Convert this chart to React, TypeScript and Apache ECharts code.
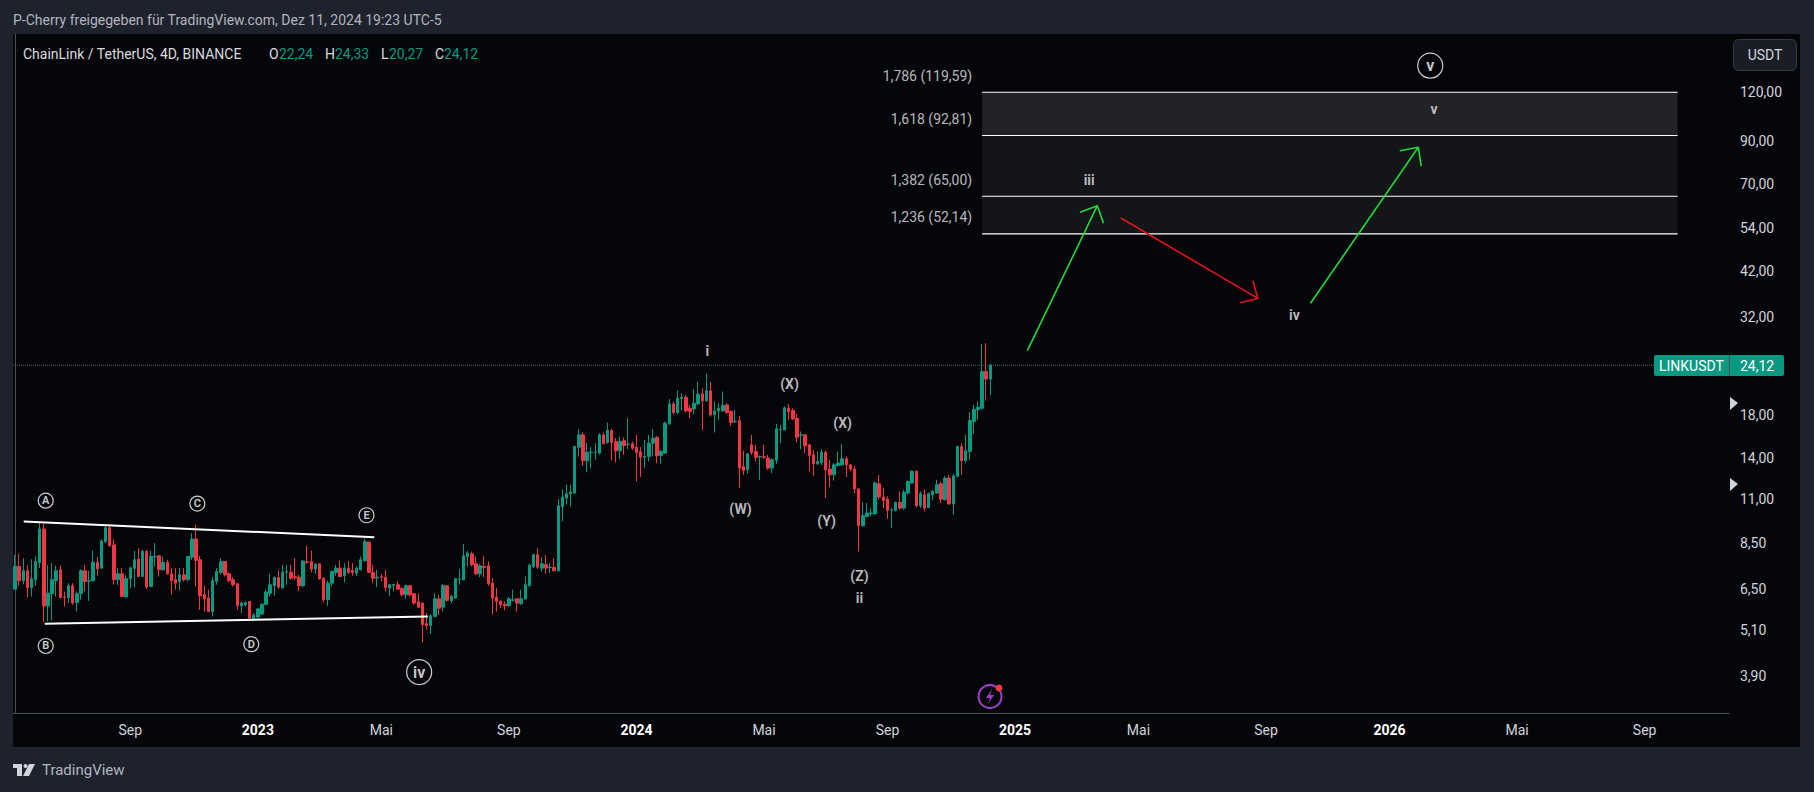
import React, { useEffect, useRef } from "react";
import * as echarts from "echarts";

// Candles as [open, high, low, close]
const candles2022 = [
  [6.49,7.93,6.47,7.41],[7.41,7.98,6.62,6.82],[6.82,7.78,6.68,7.23],[7.23,7.48,6.18,6.55],[6.55,7.73,6.22,6.90],
  [6.86,7.89,6.62,7.63],[7.59,9.65,7.34,9.24],[9.24,9.55,5.35,5.88],[5.88,7.48,5.37,6.34],[6.32,7.56,5.40,6.86],
  [6.82,7.44,6.22,7.23],[7.27,7.45,6.15,6.18],[6.20,6.40,5.86,6.18],[6.18,6.72,5.98,6.62],[6.62,6.72,5.92,5.98],
  [6.00,6.40,5.69,6.32],[6.33,7.30,6.10,7.23],[7.23,7.48,6.41,6.79],[6.80,7.23,6.06,6.82],[6.82,8.14,6.79,7.60],
  [7.60,7.83,7.02,7.31],[7.34,8.69,7.31,8.61],[8.58,9.51,8.50,9.30],[9.30,9.51,8.33,8.37],[8.41,8.69,6.66,6.86],
  [6.86,7.34,6.66,7.10],[7.10,7.34,6.20,6.22],[6.20,7.06,6.19,6.90],[6.89,7.41,6.53,7.35],[7.33,8.12,6.57,7.71],
  [7.74,8.25,6.96,6.99],[6.99,8.17,6.96,8.09],[8.09,8.17,6.49,6.57],[6.59,8.12,6.57,7.86],[7.84,8.50,7.41,7.86],
  [7.89,7.93,6.99,7.27],[7.27,7.86,7.24,7.59],[7.59,7.71,7.06,7.10],[7.10,7.34,6.28,6.82],[6.86,7.34,6.47,6.72],
  [6.79,7.34,6.44,7.06],[7.06,7.34,6.79,6.86],[6.86,7.86,6.79,7.86],[7.83,9.01,7.71,8.71],[8.71,9.47,6.59,7.68],
  [7.71,7.89,5.75,6.24],[6.28,6.62,5.69,6.13],[6.16,6.47,5.67,5.69],[5.69,6.96,5.53,6.82],[6.79,7.34,6.66,7.20],
  [7.16,7.78,7.06,7.63],[7.63,7.63,6.99,7.06],[7.10,7.16,6.76,6.82],[6.86,6.96,6.59,6.66],[6.70,6.72,5.75,5.88],
  [5.88,6.04,5.64,5.98],[5.92,6.03,5.86,6.00],[6.04,6.04,5.40,5.48],[5.44,5.64,5.37,5.58],
];
const candles2023 = [
  [5.51,5.80,5.48,5.78],[5.61,5.98,5.58,5.94],[5.93,6.47,5.91,6.38],[6.34,7.10,6.22,6.66],[6.62,6.99,6.25,6.95],
  [6.95,7.24,6.50,6.57],[6.54,7.48,6.50,7.17],[7.17,7.48,6.66,7.19],[7.17,7.48,6.86,6.92],[6.98,7.78,6.86,6.95],
  [6.96,7.06,6.41,6.62],[6.62,7.71,6.57,7.65],[7.62,8.37,7.53,7.59],[7.62,8.14,7.16,7.30],[7.30,7.56,7.10,7.51],
  [7.53,7.56,6.86,6.89],[6.92,6.96,6.00,6.10],[6.10,6.83,5.88,6.72],[6.72,7.24,6.59,7.20],[7.16,7.48,7.02,7.34],
  [7.34,7.68,6.96,6.99],[7.02,7.56,6.75,7.34],[7.34,7.66,7.10,7.16],[7.24,7.56,7.02,7.16],[7.13,7.41,7.02,7.34],
  [7.27,7.86,7.24,7.71],[7.66,8.74,7.63,8.58],[8.55,8.58,7.13,7.16],[7.16,7.48,6.72,6.92],[6.93,7.27,6.57,6.96],
  [6.98,7.10,6.79,6.96],[6.96,7.27,6.41,6.55],[6.53,6.68,6.22,6.66],[6.63,6.70,6.41,6.67],[6.66,6.79,6.47,6.49],
  [6.51,6.57,6.22,6.28],[6.28,6.66,6.13,6.62],[6.62,6.66,6.22,6.28],[6.32,6.32,5.92,5.98],[6.03,6.32,5.80,5.84],
  [5.98,6.00,4.75,5.27],[5.30,5.64,5.12,5.24],[5.24,5.60,4.99,5.55],[5.53,6.34,5.50,6.13],[6.13,6.28,5.58,5.80],
  [5.84,6.70,5.69,6.63],[6.62,6.62,6.03,6.08],[6.06,6.28,5.98,6.22],[6.16,6.93,6.13,6.90],[6.87,7.30,6.66,6.89],
  [6.86,8.45,6.83,7.89],[7.86,8.13,7.41,8.01],[7.98,8.09,7.41,7.49],[7.53,7.86,7.06,7.10],[7.10,7.53,6.96,7.44],
  [7.41,7.89,6.96,7.37],[7.44,7.63,6.62,6.70],[6.72,6.93,5.59,6.16],[6.19,6.53,5.69,6.04],[6.04,6.08,5.81,5.92],
  [5.94,6.04,5.73,5.89],[5.89,6.20,5.86,6.13],[6.08,6.47,6.04,6.10],[6.13,6.16,5.69,5.98],[5.96,6.47,5.92,6.13],
  [6.13,6.99,6.10,6.66],[6.62,7.53,6.59,7.47],[7.41,7.98,7.34,7.94],[7.94,8.25,7.31,7.38],[7.34,7.82,7.20,7.53],
  [7.49,7.94,7.10,7.34],[7.36,7.56,7.13,7.38],[7.37,7.78,7.20,7.23],[7.23,11.00,7.20,10.58],[10.54,11.66,9.66,11.14],
  [11.07,11.97,10.65,11.36],[11.36,11.97,10.54,11.47],[11.40,15.04,11.36,14.98],[14.92,16.58,14.13,16.04],[16.04,16.26,13.37,13.78],
  [13.78,15.34,12.87,14.49],[14.47,14.92,13.20,14.49],[14.47,15.28,13.86,14.49],[14.41,16.20,14.27,16.04],[16.04,16.26,15.22,15.22],
  [15.34,17.25,15.22,16.46],[16.46,16.58,13.81,15.34],[15.40,15.73,13.64,14.61],[14.61,15.89,13.92,15.43],[15.49,15.80,14.27,15.07],
  [15.16,17.68,14.75,15.19],[15.22,15.43,14.69,14.83],
];
const candles2024 = [
  [14.92,16.04,12.20,14.47],[14.52,14.92,12.52,14.07],[14.07,15.58,13.20,14.13],[14.13,16.04,13.72,15.28],[15.28,16.58,14.13,15.73],
  [15.82,15.89,13.59,14.19],[14.22,14.69,13.54,14.55],[14.41,17.34,14.33,17.18],[17.11,19.77,17.01,19.23],[19.23,19.50,18.03,18.28],
  [18.28,20.80,18.14,19.88],[19.85,20.48,18.50,20.00],[20.00,20.28,18.28,18.46],[18.75,19.12,17.68,18.39],[18.68,20.96,18.14,19.31],
  [19.23,21.90,19.12,20.36],[20.40,21.08,16.52,19.58],[19.58,22.95,19.50,20.76],[20.76,21.90,17.86,18.03],[18.03,19.50,16.26,18.46],
  [18.46,19.31,17.51,18.75],[18.46,20.68,18.39,19.05],[19.12,19.31,18.14,18.28],[18.39,18.50,16.91,17.25],[17.32,18.57,17.18,17.36],
  [17.43,17.93,11.74,13.20],[13.32,14.63,12.69,13.02],[13.07,14.41,12.77,14.35],[15.13,16.04,14.27,14.47],[14.55,15.13,13.72,14.05],
  [14.10,14.19,12.32,14.13],[14.10,15.13,13.92,14.07],[14.00,14.27,13.07,13.20],[13.20,14.00,12.82,13.86],[13.81,17.11,13.54,16.62],
  [16.55,17.01,15.28,16.58],[16.52,18.94,16.46,18.79],[18.75,19.20,17.51,18.39],[18.50,18.75,17.51,17.61],[17.68,18.14,15.34,15.82],
  [16.01,16.36,14.75,16.04],[16.04,16.04,14.41,15.04],[15.13,15.22,12.95,14.22],[14.27,14.69,12.62,13.54],[13.54,14.55,13.45,13.72],
  [13.64,14.75,13.45,14.47],[14.47,14.63,11.07,13.07],[13.12,13.86,11.80,12.69],[12.69,13.59,12.27,13.45],[13.40,14.55,13.32,13.59],
  [13.45,15.22,13.37,13.94],[13.94,14.13,12.52,13.45],[13.45,13.54,12.95,13.12],[13.12,13.37,11.40,11.68],[11.68,11.74,8.09,9.41],
  [9.41,10.79,9.37,9.98],[9.94,10.75,9.90,10.14],[10.10,10.44,9.94,10.14],[10.10,12.20,10.04,12.09],[12.04,12.69,10.96,11.14],
  [11.14,11.74,10.44,10.92],[11.00,11.18,9.81,10.30],[10.32,10.44,9.28,10.34],[10.30,10.85,10.24,10.79],[10.79,11.51,10.34,10.44],
  [10.44,11.62,10.34,11.44],[11.40,12.27,11.29,12.20],[12.09,13.02,12.04,12.95],[12.95,13.02,10.50,10.58],[10.58,11.51,10.44,11.36],
  [11.29,11.66,10.24,10.44],[10.48,11.44,10.44,11.36],[11.29,11.62,10.92,11.51],[11.40,12.32,11.36,11.97],[12.04,12.20,10.75,11.00],
  [10.96,12.60,10.92,12.45],[12.45,12.69,10.65,10.70],[10.70,12.77,10.04,12.60],[12.57,15.04,12.52,14.98],[14.98,15.28,12.69,13.78],
  [13.78,16.04,13.59,14.61],[14.55,18.32,13.86,17.45],[17.34,19.12,16.14,18.64],[18.57,19.50,17.51,18.87],[18.75,27.30,18.57,23.25],
  [23.25,27.44,19.62,22.24],[22.24,24.33,20.27,24.12],
];

const BAR_SLOTS = 417;
const START_DATE = "2022-05-07";
const BAR_DAYS = 4;

const priceTicks = [120, 90, 70, 54, 42, 32, 18, 14, 11, 8.5, 6.5, 5.1, 3.9];
const PRICE_MIN = 3.139;
const PRICE_MAX = 168.3;
const LAST_PRICE = 24.12;

const timeTickBars = [28, 59, 89, 120, 151, 182, 212, 243, 273, 304, 334, 365, 396];
const timeTickTexts = ["Sep", "2023", "Mai", "Sep", "2024", "Mai", "Sep", "2025", "Mai", "Sep", "2026", "Mai", "Sep"];

const fibPrices = [119.59, 92.81, 65.0, 52.14];
const fibBars = [235, 404];
const fibLabelTexts = ["1,786 (119,59)", "1,618 (92,81)", "1,382 (65,00)", "1,236 (52,14)"];
const fibLabelPrices = [131.8, 102.3, 71.5, 57.65];
const FIB_LABEL_BAR = 232.6;

const triangleUpper = [[2.1, 9.65], [87.3, 8.8]];
const triangleLower = [[7.2, 5.3], [100.3, 5.53]];

const arrowGreen1 = [[246.0, 26.29], [263.0, 61.5]];
const arrowGreen1Head = [[258.8, 59.2], [263.0, 61.5], [264.5, 55.5]];
const arrowRed = [[268.7, 57.2], [302.0, 35.7]];
const arrowRedHead = [[300.8, 39.6], [302.0, 35.7], [297.7, 34.8]];
const arrowGreen2 = [[314.8, 34.7], [341.0, 86.6]];
const arrowGreen2Head = [[336.5, 84.9], [341.0, 86.6], [341.7, 77.6]];

const waveLabels: [string, number, number][] = [
  ["i", 168.2, 26.29], ["(X)", 188.2, 21.67], ["(W)", 176.3, 10.41], ["(X)", 201.1, 17.16],
  ["(Y)", 197.2, 9.65], ["(Z)", 205.2, 7.03], ["ii", 205.2, 6.16],
  ["iii", 261.0, 71.4], ["iv", 310.9, 32.4], ["v", 344.8, 108.2],
];
const smallCircled: [string, number, number][] = [
  ["A", 7.45, 10.9], ["B", 7.45, 4.65], ["C", 44.3, 10.72], ["D", 57.4, 4.7], ["E", 85.4, 10.01],
];
const bigCircled: [string, number, number][] = [["iv", 98.2, 3.99], ["v", 343.9, 139.8]];

const UP = "#089981";
const DOWN = "#f23645";
const FONT = "Roboto, sans-serif";

const candles = [...candles2022, ...candles2023, ...candles2024];
const log = (p: number) => Math.log10(p);
const toPts = (pts: number[][]) => pts.map(([b, p]) => [b, log(p)]);

const categories = Array.from({ length: BAR_SLOTS }, (_, i) => {
  const d = new Date(START_DATE + "T00:00:00Z");
  d.setUTCDate(d.getUTCDate() + i * BAR_DAYS);
  return d.toISOString().slice(0, 10);
});
const tickTextByDate = new Map(timeTickBars.map((b, i) => [categories[b], timeTickTexts[i]]));
const tickBarSet = new Set(timeTickBars);

function segment(data: number[][], color: string, width: number, type: string = "solid") {
  return {
    type: "line", xAxisIndex: 1, yAxisIndex: 0, data: toPts(data), symbol: "none", silent: true, z: 5,
    lineStyle: { color, width, type }, itemStyle: { color },
  };
}

function labelSeries(rows: [string, number, number][], label: any) {
  return {
    type: "scatter", xAxisIndex: 1, yAxisIndex: 0, symbolSize: 0.1, silent: true, z: 6,
    itemStyle: { color: "transparent" },
    data: rows.map(([t, b, p]) => ({ value: [b, log(p)], name: t })),
    label: { show: true, position: "inside", formatter: (x: any) => x.name, ...label },
  };
}

const txt = (text: string, x: number, y: number, fill: string, size = 14, extra: any = {}) => ({
  type: "text", silent: true, z: 20,
  style: { text, x, y, fill, font: `${extra.weight || 400} ${size}px ${FONT}`, textVerticalAlign: "middle", textAlign: extra.align || "left" },
});

export default function App() {
  const ref = useRef<HTMLDivElement>(null);
  useEffect(() => {
    document.body.style.margin = "0";
    document.body.style.background = "#1e222d";
    const chart = echarts.init(ref.current!, null, { renderer: "svg" });
    const fibMid = fibBars;
    chart.setOption({
      animation: false,
      backgroundColor: "transparent",
      grid: { left: 13, top: 34, width: 1716, height: 679, containLabel: false },
      xAxis: [
        {
          type: "category", data: categories, boundaryGap: true,
          axisLine: { show: true, lineStyle: { color: "#4c4f57", width: 1 } },
          axisTick: { show: false },
          splitLine: { show: false },
          axisLabel: {
            interval: (i: number) => tickBarSet.has(i),
            margin: 10, hideOverlap: false, color: "#d1d4dc", fontFamily: FONT, fontSize: 14,
            formatter: (v: string) => {
              const t = tickTextByDate.get(v) || "";
              return /^\d{4}$/.test(t) ? `{b|${t}}` : t;
            },
            rich: { b: { color: "#ffffff", fontWeight: 700, fontFamily: FONT, fontSize: 14 } },
          },
        },
        { type: "value", show: false, min: -0.5, max: BAR_SLOTS - 0.5 },
      ],
      yAxis: {
        type: "value", position: "right", min: log(PRICE_MIN), max: log(PRICE_MAX), scale: true,
        axisLine: { show: true, lineStyle: { color: "#4c4f57", width: 1 } },
        axisTick: { show: false },
        splitLine: { show: false },
        axisLabel: {
          customValues: priceTicks.map(log), margin: 11, color: "#d1d4dc", fontFamily: FONT, fontSize: 14,
          showMinLabel: true, showMaxLabel: true,
          formatter: (v: number) => Math.pow(10, v).toFixed(2).replace(".", ","),
        },
      },
      series: [
        {
          type: "candlestick", xAxisIndex: 0, yAxisIndex: 0, barWidth: 3, z: 3, silent: true,
          data: candles.map(([o, h, l, c]) => [log(o), log(c), log(l), log(h)]),
          itemStyle: { color: UP, color0: DOWN, borderColor: UP, borderColor0: DOWN, borderWidth: 1 },
        },
        {
          ...segment([[-0.5, LAST_PRICE], [BAR_SLOTS - 0.5, LAST_PRICE]], "#4f6f68", 1, "dotted"), z: 2,
        },
        {
          ...segment([[fibBars[0], fibPrices[0]], [fibBars[1], fibPrices[0]]], "#ffffff", 1.2),
          markArea: {
            silent: true, z: 1,
            data: [
              [{ coord: [fibMid[0], log(fibPrices[0])], itemStyle: { color: "#222327" } }, { coord: [fibMid[1], log(fibPrices[1])] }],
              [{ coord: [fibMid[0], log(fibPrices[1])], itemStyle: { color: "#141518" } }, { coord: [fibMid[1], log(fibPrices[3])] }],
            ],
          },
        },
        segment([[fibBars[0], fibPrices[1]], [fibBars[1], fibPrices[1]]], "#ffffff", 1.2),
        segment([[fibBars[0], fibPrices[2]], [fibBars[1], fibPrices[2]]], "#ffffff", 1.2),
        segment([[fibBars[0], fibPrices[3]], [fibBars[1], fibPrices[3]]], "#ffffff", 1.2),
        segment(triangleUpper, "#ffffff", 2),
        segment(triangleLower, "#ffffff", 2),
        segment(arrowGreen1, "#21d93a", 1.6),
        segment(arrowGreen1Head, "#21d93a", 1.6),
        segment(arrowRed, "#e3141c", 1.6),
        segment(arrowRedHead, "#e3141c", 1.6),
        segment(arrowGreen2, "#21d93a", 1.6),
        segment(arrowGreen2Head, "#21d93a", 1.6),
        labelSeries(waveLabels, { color: "#f0f0f0", fontFamily: FONT, fontSize: 14, fontWeight: 600 }),
        labelSeries(smallCircled, {
          color: "#ffffff", fontFamily: FONT, fontSize: 11, fontWeight: 600, width: 15, height: 15, lineHeight: 15,
          align: "center", verticalAlign: "middle", borderColor: "#ffffff", borderWidth: 1.2, borderRadius: 8,
        }),
        labelSeries(bigCircled, {
          color: "#ffffff", fontFamily: FONT, fontSize: 16, fontWeight: 600, width: 25, height: 25, lineHeight: 25,
          align: "center", verticalAlign: "middle", borderColor: "#ffffff", borderWidth: 1.2, borderRadius: 13,
        }),
        labelSeries(
          fibLabelTexts.map((t, i) => [t, FIB_LABEL_BAR, fibLabelPrices[i]] as [string, number, number]),
          { color: "#e4e4e4", fontFamily: FONT, fontSize: 14, align: "right" }
        ),
      ],
      graphic: [
        txt("P-Cherry freigegeben für TradingView.com, Dez 11, 2024 19:23 UTC-5", 13, 20, "#b2b5be"),
        txt("ChainLink / TetherUS, 4D, BINANCE", 23, 54, "#d9dadd"),
        txt("O", 269, 54, "#d9dadd"), txt("22,24", 279, 54, UP),
        txt("H", 325, 54, "#d9dadd"), txt("24,33", 335, 54, UP),
        txt("L", 381, 54, "#d9dadd"), txt("20,27", 389, 54, UP),
        txt("C", 435, 54, "#d9dadd"), txt("24,12", 444, 54, UP),
        {
          type: "rect", silent: true, z: 19, shape: { x: 1733.5, y: 39.5, width: 63, height: 31, r: 5 },
          style: { fill: "#1a1d25", stroke: "#363a45", lineWidth: 1 },
        },
        txt("USDT", 1765, 55, "#d1d4dc", 14, { align: "center" }),
        { type: "rect", silent: true, z: 19, shape: { x: 1654, y: 355, width: 130, height: 21, r: 2 }, style: { fill: UP } },
        { type: "line", silent: true, z: 19, shape: { x1: 1729.5, y1: 355, x2: 1729.5, y2: 376 }, style: { stroke: "#4c4f57" } },
        txt("LINKUSDT", 1659, 366, "#ffffff"),
        txt("24,12", 1740, 366, "#ffffff"),
        { type: "polygon", silent: true, z: 19, shape: { points: [[1730, 397], [1738, 403], [1730, 410]] }, style: { fill: "#d1d4dc" } },
        { type: "polygon", silent: true, z: 19, shape: { points: [[1730, 478], [1738, 484], [1730, 491]] }, style: { fill: "#d1d4dc" } },
        { type: "circle", silent: true, z: 19, shape: { cx: 990, cy: 696.5, r: 11.5 }, style: { fill: "transparent", stroke: "#9c3fc4", lineWidth: 2 } },
        { type: "polygon", silent: true, z: 19, shape: { points: [[992, 689], [986, 698], [990, 698], [988, 704], [994, 695], [990, 695]] }, style: { fill: "#9c3fc4" } },
        { type: "circle", silent: true, z: 20, shape: { cx: 999, cy: 688, r: 3.5 }, style: { fill: "#f23645" } },
        { type: "polygon", silent: true, z: 19, shape: { points: [[13, 764], [22, 764], [22, 776], [17, 776], [17, 768], [13, 768]] }, style: { fill: "#d1d4dc" } },
        { type: "circle", silent: true, z: 19, shape: { cx: 25.5, cy: 766, r: 2 }, style: { fill: "#d1d4dc" } },
        { type: "polygon", silent: true, z: 19, shape: { points: [[29, 764], [35, 764], [29, 776], [23, 776]] }, style: { fill: "#d1d4dc" } },
        txt("TradingView", 42, 770, "#b2b5be", 15),
      ],
    });
    return () => chart.dispose();
  }, []);
  return (
    <div style={{ position: "absolute", left: 0, top: 0, width: 1814, height: 792, background: "#1e222d", overflow: "hidden" }}>
      <div style={{ position: "absolute", left: 13, top: 34, width: 1787, height: 713, background: "#05060a" }} />
      <div ref={ref} style={{ position: "absolute", left: 0, top: 0, width: 1814, height: 792 }} />
    </div>
  );
}
